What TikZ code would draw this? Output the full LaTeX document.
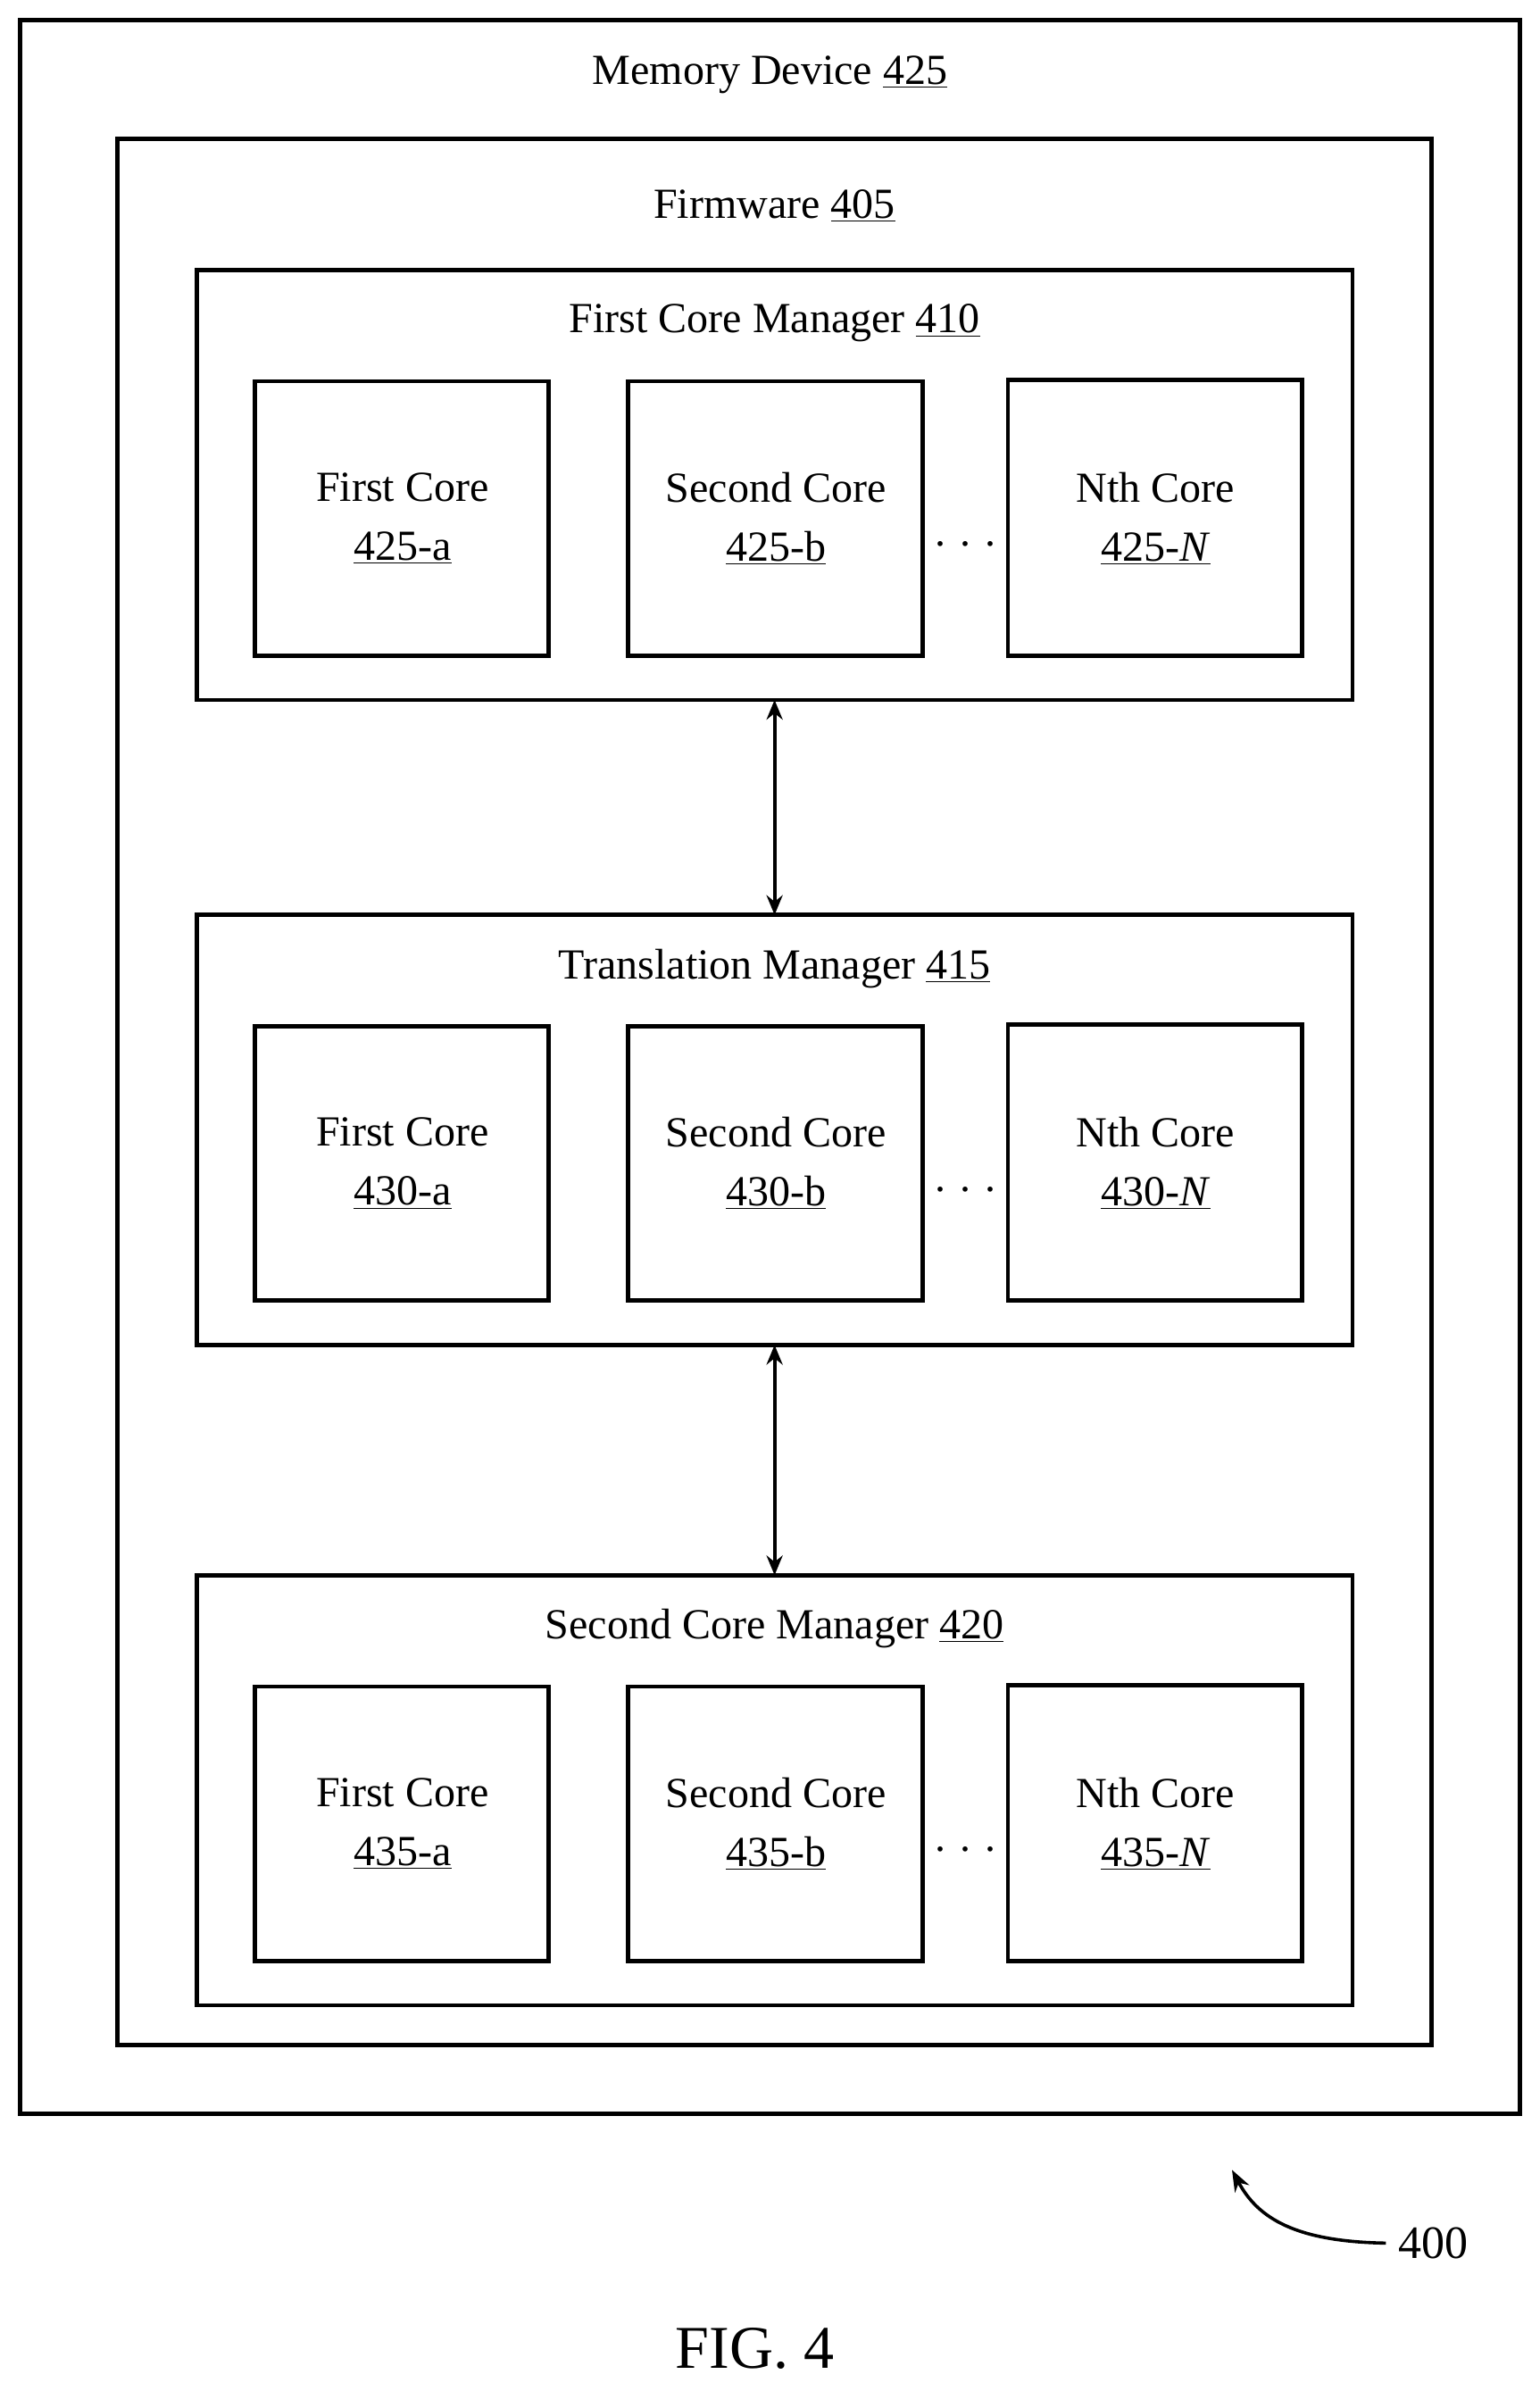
\documentclass[tikz,border=0pt]{standalone}
\usepackage{fontspec}
\setmainfont{Liberation Serif}
\usetikzlibrary{arrows.meta}
\begin{document}
\begin{tikzpicture}[x=0.03cm,y=-0.03cm,
  box/.style={draw,line width=2.4pt},
  txt/.style={font=\fontsize{24}{28}\selectfont,align=center,inner sep=0pt},
  arr/.style={line width=2pt,{Stealth[length=11pt,width=9pt]}-{Stealth[length=11pt,width=9pt]}}]
\useasboundingbox (0,0) rectangle (1010,1568);
\draw[box] (13,13) rectangle (997,1386);
\node[txt] (mdt) at (505,49) {Memory Device \underline{425}};
\draw[box] (77,91) rectangle (939,1341);
\node[txt] (fwt) at (508,135) {Firmware \underline{405}};
\foreach \name/\top/\title/\num in {fcm/177/First Core Manager \underline{410}/425, tm/600/Translation Manager \underline{415}/430, scm/1033/Second Core Manager \underline{420}/435}{
  \draw[box] (129,\top) rectangle (887,\top+282);
  \coordinate (\name-t) at (508,\top);
  \coordinate (\name-b) at (508,\top+282);
  \node[txt] (\name-title) at (508,\top+35) {\title};
  \draw[box] (167,\top+73) rectangle (360,\top+253);
  \draw[box] (412,\top+73) rectangle (605,\top+253);
  \draw[box] (661,\top+72) rectangle (854,\top+253);
  \node[txt] (\name-c1) at (264,\top+163) {First Core\\[5pt]\underline{\num-a}};
  \node[txt] (\name-c2) at (509,\top+163) {Second Core\\[5pt]\underline{\num-b}};
  \node[txt] (\name-c3) at (758,\top+163) {Nth Core\\[5pt]\underline{\num-\textit{N}}};
  \node[txt] (\name-dots) at (633,\top+180) {.\,\,.\,\,.};
}
\draw[arr] (fcm-b) -- (tm-t);
\draw[arr] (tm-b) -- (scm-t);
\node[txt,font=\fontsize{26}{30}\selectfont] (l400) at (940,1471) {400};
\coordinate (c400) at (808,1423);
\draw[line width=1.8pt,-{Stealth[length=12pt,width=9pt]}] (l400.west) ++(-8,0) .. controls (850,1470) and (825,1455) .. (c400);
\node[txt,font=\fontsize{34}{38}\selectfont] (fig) at (495,1540) {FIG. 4};
\end{tikzpicture}
\end{document}
